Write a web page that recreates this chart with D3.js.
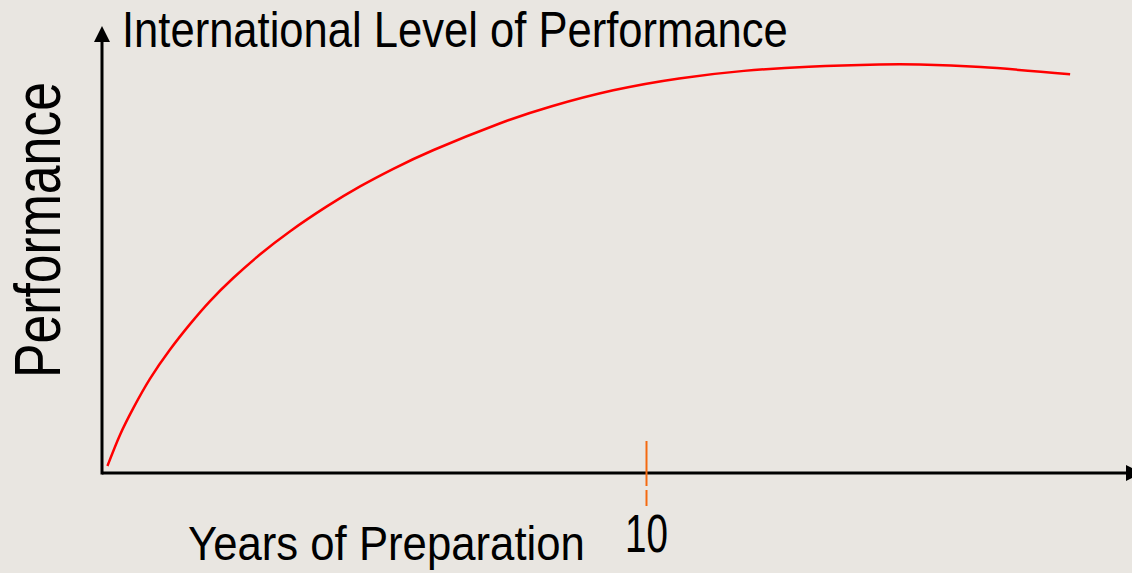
<!DOCTYPE html>
<html><head><meta charset="utf-8">
<script src="https://cdn.jsdelivr.net/npm/d3@7"></script>
<style>html,body{margin:0;padding:0;background:#e9e6e1;overflow:hidden}</style>
</head><body>
<svg id="c" width="1132" height="573"></svg>
<script>
// Data (years of preparation, performance %)
const years = [0.10,0.33,0.58,0.88,1.25,1.62,1.98,2.41,2.90,3.45,4.13,4.74,5.35,6.09,7.29,8.26,9.39,10.60,11.79,12.98,14.27,15.01,16.14,17.78];
const performance = [1.57,8.52,14.63,21.05,27.63,33.36,38.41,43.62,48.88,54.05,59.64,64.12,68.05,72.26,78.14,82.06,85.62,88.28,89.96,90.90,91.37,91.37,90.81,89.22];
const tickValues = [10];
const tickLabels = ["10"];
const titleText = "International Level of Performance";
const xLabel = "Years of Preparation";
const yLabel = "Performance";

const svg = d3.select("#c");
const font = "'Liberation Sans',Arial,sans-serif";
svg.append("rect").attr("width",1132).attr("height",573).attr("fill","#e9e6e1");

const x = d3.scaleLinear().domain([0,10]).range([102,646.5]);
const y = d3.scaleLinear().domain([0,100]).range([473,26]);

// axes
svg.append("line").attr("x1",x(0)).attr("x2",1128).attr("y1",y(0)).attr("y2",y(0))
  .attr("stroke","#000").attr("stroke-width",3);
svg.append("line").attr("x1",x(0)).attr("x2",x(0)).attr("y1",y(0)+1.5).attr("y2",40)
  .attr("stroke","#000").attr("stroke-width",3);
// arrowheads
svg.append("path").attr("d",`M${x(0)},${y(100)} L${x(0)-8},${y(100)+16} L${x(0)+8},${y(100)+16}Z`).attr("fill","#000");
svg.append("path").attr("d",`M1142,${y(0)} L1126,${y(0)-8} L1126,${y(0)+8}Z`).attr("fill","#000");

// text fitted horizontally to a target width
function fitText(tx, ty, rot, size, width, str, anchor){
  const g = svg.append("g");
  const t = g.append("text").attr("font-family",font).attr("font-size",size).attr("fill","#000")
    .attr("text-anchor",anchor||"start").text(str);
  const w = t.node().getComputedTextLength();
  const s = width / w;
  g.attr("transform",`translate(${tx},${ty}) rotate(${rot}) scale(${s},1)`);
  return g;
}

// tick
tickValues.forEach((v,i)=>{
  svg.append("line").attr("x1",x(v)).attr("x2",x(v)).attr("y1",441).attr("y2",486)
    .attr("stroke","#f46a10").attr("stroke-width",2);
  svg.append("line").attr("x1",x(v)).attr("x2",x(v)).attr("y1",490).attr("y2",506)
    .attr("stroke","#f46a10").attr("stroke-width",2);
  fitText(x(v), 552, 0, 53, 43, tickLabels[i], "middle");
});

// curve
const data = years.map((d,i)=>[d,performance[i]]);
svg.append("path").datum(data)
  .attr("d",d3.line().x(d=>x(d[0])).y(d=>y(d[1])).curve(d3.curveNatural))
  .attr("fill","none").attr("stroke","#ff0000").attr("stroke-width",2.5);

// texts
fitText(122, 47, 0, 50, 666, titleText);
fitText(188, 560, 0, 49, 397, xLabel);
fitText(60, 378, -90, 64, 296, yLabel);
</script>
</body></html>
